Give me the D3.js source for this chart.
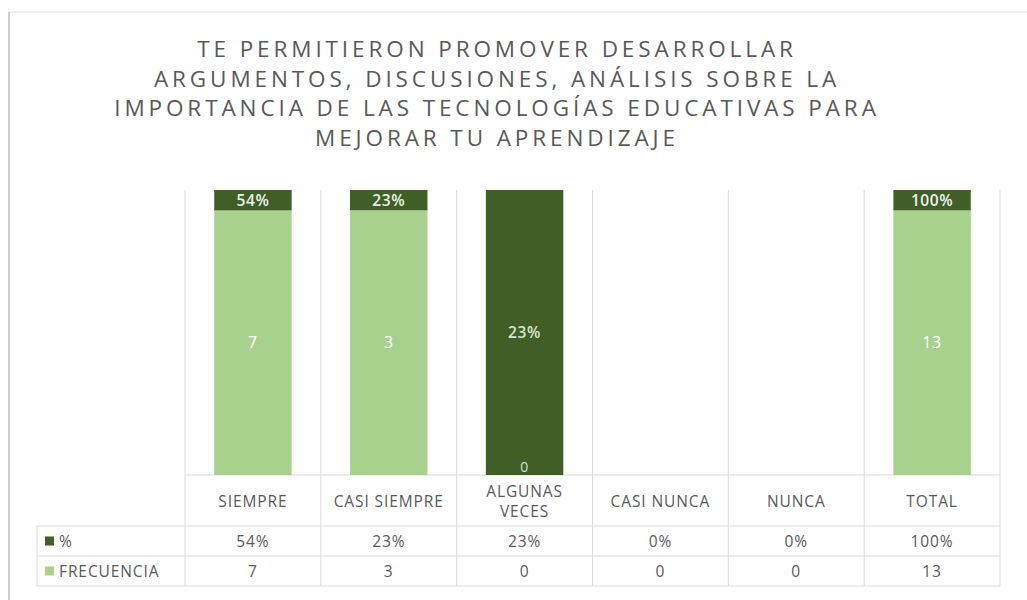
<!DOCTYPE html>
<html>
<head>
<meta charset="utf-8">
<script src="https://cdn.jsdelivr.net/npm/d3@7"></script>
<style>
  body { margin: 0; background: #fff; }
  svg { display: block; }
</style>
</head>
<body>
<svg id="chart" width="1027" height="600"></svg>
<script>
// data
const categories = ["SIEMPRE", "CASI SIEMPRE", "ALGUNAS VECES", "CASI NUNCA", "NUNCA", "TOTAL"];
const frecuencia = [7, 3, 0, 0, 0, 13];
const pct = [0.54, 0.23, 0.23, 0, 0, 1.0];
const titleLines = [
  "TE PERMITIERON PROMOVER DESARROLLAR",
  "ARGUMENTOS, DISCUSIONES, ANÁLISIS SOBRE LA",
  "IMPORTANCIA DE LAS TECNOLOGÍAS EDUCATIVAS PARA",
  "MEJORAR TU APRENDIZAJE"
];

const svg = d3.select("#chart");
const darkGreen = "#3f5f27";
const lightGreen = "#a9d18e";
const gridColor = "#dcdcdc";
const textColor = "#595959";
const font = "'Open Sans', sans-serif";

// frame lines (left + top)
svg.append("line").attr("x1", 9).attr("x2", 1027).attr("y1", 12).attr("y2", 12)
  .attr("stroke", "#e0e0e0").attr("stroke-width", 1);
svg.append("line").attr("x1", 9).attr("x2", 9).attr("y1", 12).attr("y2", 600)
  .attr("stroke", "#cfcfcf").attr("stroke-width", 2);

// title
svg.append("g").selectAll("text")
  .data(titleLines)
  .join("text")
    .attr("x", 497)
    .attr("y", (d, i) => 57 + i * 29.7)
    .attr("text-anchor", "middle")
    .style("font-family", font)
    .style("font-size", "22.5px")
    .style("letter-spacing", "3.9px")
    .attr("fill", textColor)
    .text(d => d);

// scales
const plotTop = 190, plotBottom = 475;
const x = d3.scaleBand().domain(categories).range([185, 1000]);
const y = d3.scaleLinear().domain([0, 1]).range([plotBottom, plotTop]);
const barW = x.bandwidth() * 0.57;

// normalised stack: frecuencia at bottom, % on top
const rows = categories.map((c, i) => ({ cat: c, frec: frecuencia[i], pct: pct[i], tot: frecuencia[i] + pct[i] }));
const stack = d3.stack()
  .keys(["frec", "pct"])
  .value((d, k) => d.tot ? d[k] / d.tot : 0)(rows);
const colors = { frec: lightGreen, pct: darkGreen };

// table geometry
const tableLeft = 37, catRowBottom = 526, pctRowBottom = 556, frecRowBottom = 586;

// grid / table lines
const lines = svg.append("g").attr("stroke", gridColor).attr("stroke-width", 1);
const edges = categories.map(c => x(c)).concat([x.range()[1]]);
edges.forEach(e => {
  lines.append("line").attr("x1", e).attr("x2", e).attr("y1", plotTop).attr("y2", frecRowBottom);
});
lines.append("line").attr("x1", tableLeft).attr("x2", tableLeft).attr("y1", catRowBottom).attr("y2", frecRowBottom);
lines.append("line").attr("x1", 185).attr("x2", 1000).attr("y1", plotBottom).attr("y2", plotBottom);
[catRowBottom, pctRowBottom, frecRowBottom].forEach(yy => {
  lines.append("line").attr("x1", tableLeft).attr("x2", 1000).attr("y1", yy).attr("y2", yy);
});

// bars
svg.append("g").selectAll("g")
  .data(stack)
  .join("g")
    .attr("fill", d => colors[d.key])
  .selectAll("rect")
  .data(d => d)
  .join("rect")
    .attr("x", d => x(d.data.cat) + (x.bandwidth() - barW) / 2)
    .attr("width", barW)
    .attr("y", d => y(d[1]))
    .attr("height", d => y(d[0]) - y(d[1]));

// data labels on top of all bars (empty columns get no visible label)
const fmtPct = d3.format(".0%");
const labelG = svg.append("g");
stack.forEach(layer => {
  labelG.append("g").selectAll("text")
    .data(layer.filter(d => d.data.tot > 0))
    .join("text")
      .attr("x", d => x(d.data.cat) + x.bandwidth() / 2)
      .attr("y", d => {
        const mid = (y(d[0]) + y(d[1])) / 2;
        return d[1] - d[0] === 0 ? mid - 8 : mid;
      })
      .attr("dy", "0.36em")
      .attr("text-anchor", "middle")
      .style("font-family", font)
      .style("font-size", d => layer.key === "pct" ? "15.5px" : (d.data.frec ? "16px" : "14px"))
      .style("font-weight", layer.key === "pct" ? "600" : "400")
      .style("letter-spacing", "0.6px")
      .attr("fill", layer.key === "pct"
        ? (d => d.data.frec ? "#eef3ea" : "#d6e6cb")
        : (d => d.data.frec ? "#ffffff" : "#dedede"))
      .text(d => layer.key === "pct" ? fmtPct(d.data.pct) : d.data.frec);
});

// category labels
const catLabels = svg.append("g")
  .style("font-family", font)
  .style("font-size", "15.5px")
  .style("letter-spacing", "0.9px")
  .attr("fill", textColor)
  .attr("text-anchor", "middle");
categories.forEach(c => {
  const parts = c === "ALGUNAS VECES" ? ["ALGUNAS", "VECES"] : [c];
  const cy = (plotBottom + catRowBottom) / 2 + 1;
  parts.forEach((p, j) => {
    catLabels.append("text")
      .attr("x", x(c) + x.bandwidth() / 2)
      .attr("y", cy + (j - (parts.length - 1) / 2) * 20)
      .attr("dy", "0.36em")
      .text(p);
  });
});

// data table rows
const tableRows = [
  { name: "%", color: darkGreen, values: pct.map(fmtPct), top: catRowBottom, bottom: pctRowBottom },
  { name: "FRECUENCIA", color: lightGreen, values: frecuencia.map(String), top: pctRowBottom, bottom: frecRowBottom }
];
const tbl = svg.append("g")
  .style("font-family", font)
  .style("font-size", "15.5px")
  .style("letter-spacing", "0.9px")
  .attr("fill", textColor);
tableRows.forEach(r => {
  const cy = (r.top + r.bottom) / 2;
  tbl.append("rect").attr("x", 45).attr("y", cy - 4.5).attr("width", 9).attr("height", 9).attr("fill", r.color);
  tbl.append("text").attr("x", 59).attr("y", cy).attr("dy", "0.36em").text(r.name);
  r.values.forEach((v, i) => {
    tbl.append("text")
      .attr("x", x(categories[i]) + x.bandwidth() / 2)
      .attr("y", cy)
      .attr("dy", "0.36em")
      .attr("text-anchor", "middle")
      .text(v);
  });
});
</script>
</body>
</html>
